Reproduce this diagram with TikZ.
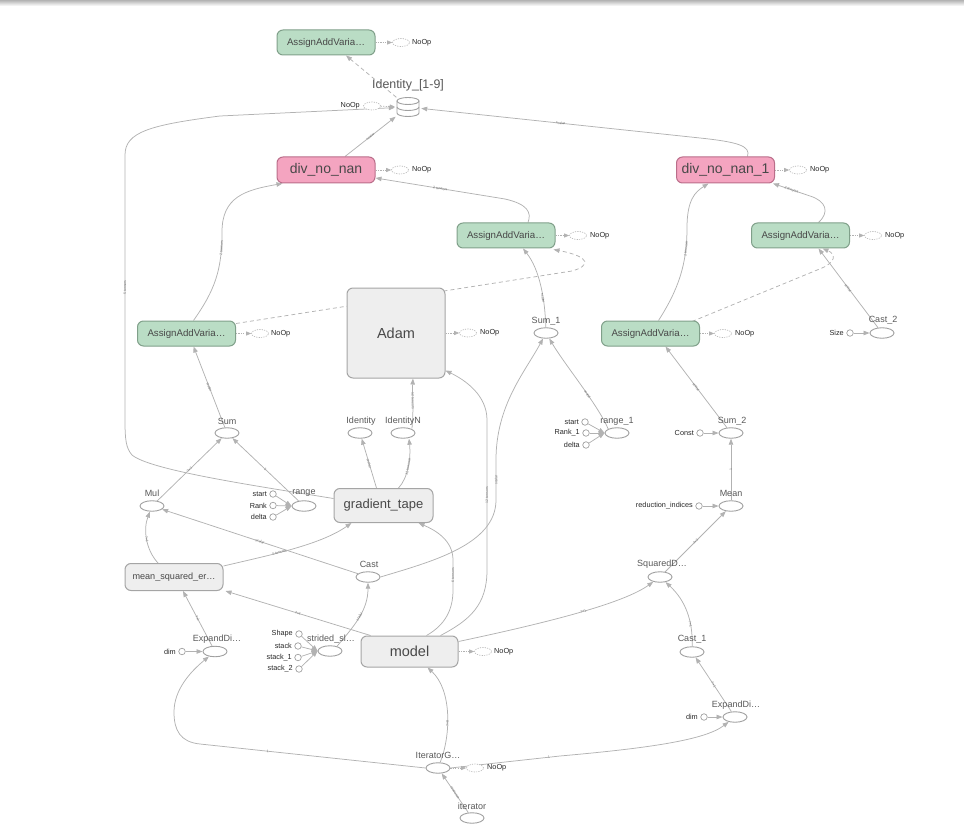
\documentclass[tikz,border=0pt]{standalone}
\usepackage{fontspec}
\setmainfont{Liberation Sans}
\usetikzlibrary{shapes.geometric,arrows.meta,calc}
\pgfdeclarelayer{bg}
\pgfsetlayers{bg,main}
\definecolor{eg}{RGB}{178,178,178}
\definecolor{og}{RGB}{160,160,160}
\definecolor{gfill}{RGB}{186,221,197}
\definecolor{gdraw}{RGB}{128,160,138}
\definecolor{pfill}{RGB}{244,164,192}
\definecolor{pdraw}{RGB}{186,110,138}
\definecolor{hfill}{RGB}{238,238,238}
\definecolor{hdraw}{RGB}{165,165,165}
\definecolor{boxtxt}{RGB}{72,72,72}
\definecolor{lab}{RGB}{88,88,88}
\tikzset{
 edge/.style={draw=eg, line width=0.75pt, -{Triangle[length=6pt,width=4.5pt]}},
 cdep/.style={edge, dash pattern=on 4pt off 3pt},
 ndot/.style={draw=eg, line width=0.7pt, dash pattern=on 1.2pt off 1.2pt, -{Triangle[length=5pt,width=4pt]}},
 op/.style={ellipse, draw=og, line width=0.9pt, fill=white, minimum width=24pt, minimum height=10.5pt, inner sep=0pt},
 noop/.style={ellipse, draw=eg, line width=0.6pt, dash pattern=on 1.2pt off 1.2pt, fill=white, minimum width=17pt, minimum height=8pt, inner sep=0pt},
 cst/.style={circle, draw=og, line width=0.7pt, fill=white, minimum size=6.5pt, inner sep=0pt},
 oplbl/.style={text=lab, font=\fontsize{9}{9}\selectfont, inner sep=0pt},
 smalltxt/.style={text=black!85, font=\fontsize{7.3}{7.3}\selectfont, inner sep=0pt, anchor=east},
 nooptxt/.style={text=black!85, font=\fontsize{7.3}{7.3}\selectfont, inner sep=0pt, anchor=west},
 el/.style={text=black!55, font=\fontsize{3.5}{3.5}\selectfont, sloped, inner sep=0.3pt},
 gbox/.style={rectangle, rounded corners=6pt, draw=gdraw, fill=gfill, line width=1pt, minimum width=98pt, minimum height=25pt, inner sep=0pt, text=boxtxt, font=\fontsize{9.7}{9.7}\selectfont},
 pbox/.style={gbox, draw=pdraw, fill=pfill, minimum height=26pt, font=\fontsize{14}{14}\selectfont},
 hbox/.style={gbox, draw=hdraw, fill=hfill},
}
\begin{document}
\begin{tikzpicture}[x=1pt,y=-1pt]
\useasboundingbox (0,0) rectangle (964,829);
\shade[top color=black!30, bottom color=white] (0,0) rectangle (964,6);

% ---------- boxes ----------
\node[gbox] (aa0) at (326,42.5) {AssignAddVaria…};
\node[pbox] (dn) at (326,170) {div\_no\_nan};
\node[pbox] (dn1) at (725.5,170) {div\_no\_nan\_1};
\node[gbox] (aaM) at (506,235.5) {AssignAddVaria…};
\node[gbox] (aaR) at (800.5,235.5) {AssignAddVaria…};
\node[gbox] (aaL) at (186.5,333.5) {AssignAddVaria…};
\node[gbox] (aaRL) at (650.5,333.5) {AssignAddVaria…};
\node[hbox, minimum height=90pt, font=\fontsize{14.5}{14.5}\selectfont] (adam) at (396,333) {Adam};
\node[hbox, minimum width=99pt, minimum height=34pt, font=\fontsize{13}{13}\selectfont] (gt) at (383.5,505.5) {gradient\_tape};
\node[hbox, minimum height=27pt, font=\fontsize{9.1}{9.1}\selectfont] (msq) at (174,577) {mean\_squared\_er…};
\node[hbox, minimum width=97pt, minimum height=31pt, font=\fontsize{14.5}{14.5}\selectfont] (model) at (409.5,651.5) {model};

% ---------- identity stack ----------
\node[inner sep=0pt, minimum width=26pt, minimum height=19pt] (idn) at (408,107) {};
\node[oplbl, font=\fontsize{12.4}{12.4}\selectfont] (idnl) at (408,85.5) {Identity\_[1-9]};
\fill[white] (397,101) -- (397,113) arc[start angle=180, end angle=0, x radius=11, y radius=3.5] -- (419,101) -- cycle;
\draw[og, line width=0.9pt] (408,101) ellipse [x radius=11, y radius=3.5];
\draw[og, line width=0.9pt] (397,101) -- (397,113) arc[start angle=180, end angle=0, x radius=11, y radius=3.5] -- (419,101);
\draw[og, line width=0.9pt] (397,107) arc[start angle=180, end angle=0, x radius=11, y radius=3.5];

% ---------- ops ----------
\node[op] (s1) at (546,333) {};      \node[oplbl] (s1l) at (546,321) {Sum\_1};
\node[op] (c2) at (882,333) {};      \node[oplbl] (c2l) at (883,320.5) {Cast\_2};
\node[op] (sum) at (227,433) {};     \node[oplbl] (suml) at (227,421) {Sum};
\node[op] (ident) at (360,433) {};   \node[oplbl] (identl) at (361,421) {Identity};
\node[op] (idN) at (403,433) {};     \node[oplbl] (idNl) at (403,421) {IdentityN};
\node[op] (r1) at (617,433) {};      \node[oplbl] (r1l) at (617,421) {range\_1};
\node[op] (s2) at (731,433) {};      \node[oplbl] (s2l) at (732,421) {Sum\_2};
\node[op] (mul) at (152,506) {};     \node[oplbl] (mull) at (152,493.5) {Mul};
\node[op] (rng) at (304,506) {};     \node[oplbl] (rngl) at (304,493.5) {range};
\node[op] (mean) at (731,506) {};    \node[oplbl] (meanl) at (731,493) {Mean};
\node[op] (cast) at (368,577) {};    \node[oplbl] (castl) at (369,564) {Cast};
\node[op] (sqd) at (660,577) {};     \node[oplbl] (sqdl) at (662,564) {SquaredD…};
\node[op] (edl) at (215,651.5) {};   \node[oplbl] (edll) at (217,639) {ExpandDi…};
\node[op] (ss) at (330,651) {};      \node[oplbl] (ssl) at (331,639) {strided\_sl…};
\node[op] (c1) at (692,652) {};      \node[oplbl] (c1l) at (692,639) {Cast\_1};
\node[op] (edr) at (735,717) {};     \node[oplbl] (edrl) at (736,705) {ExpandDi…};
\node[op] (itg) at (438,768) {};     \node[oplbl] (itgl) at (438,755) {IteratorG…};
\node[op] (itr) at (472,818) {};     \node[oplbl] (itrl) at (472,806) {iterator};

% ---------- constants ----------
\node[cst] (kSize) at (850,333) {};  \node[smalltxt] (kSizet) at (844,333) {Size};
\node[cst] (kS1) at (585,422) {};    \node[smalltxt] (kS1t) at (579,422) {start};
\node[cst] (kR1) at (586,433) {};    \node[smalltxt] (kR1t) at (580,433) {Rank\_1};
\node[cst] (kD1) at (586,445) {};    \node[smalltxt] (kD1t) at (580,445) {delta};
\node[cst] (kC) at (700,433) {};     \node[smalltxt] (kCt) at (694,433) {Const};
\node[cst] (kS0) at (273,494) {};    \node[smalltxt] (kS0t) at (267,494) {start};
\node[cst] (kR0) at (273,505.5) {};  \node[smalltxt] (kR0t) at (267,505.5) {Rank};
\node[cst] (kD0) at (273,517) {};    \node[smalltxt] (kD0t) at (267,517) {delta};
\node[cst] (kRI) at (699,506) {};    \node[smalltxt] (kRIt) at (693,506) {reduction\_indices};
\node[cst] (kDimL) at (182,651.5) {};\node[smalltxt] (kDimLt) at (176,651.5) {dim};
\node[cst] (kSh) at (299,634) {};    \node[smalltxt] (kSht) at (293,634) {Shape};
\node[cst] (kSt) at (298,646) {};    \node[smalltxt] (kStt) at (292,646) {stack};
\node[cst] (kSt1) at (298,657.5) {}; \node[smalltxt] (kSt1t) at (292,657.5) {stack\_1};
\node[cst] (kSt2) at (299,669) {};   \node[smalltxt] (kSt2t) at (293,669) {stack\_2};
\node[cst] (kDimR) at (704,717) {};  \node[smalltxt] (kDimRt) at (698,717) {dim};

% ---------- NoOps ----------
\node[noop] (n0) at (401,42.5) {};   \node[nooptxt] (n0t) at (412,42.5) {NoOp};
\node[noop] (nI) at (372,106) {};    \node[nooptxt, anchor=east] (nIt) at (360,106) {NoOp};
\node[noop] (n1) at (400,170) {};    \node[nooptxt] (n1t) at (412,170) {NoOp};
\node[noop] (n2) at (798,170) {};    \node[nooptxt] (n2t) at (810,170) {NoOp};
\node[noop] (n3) at (578,235.5) {};  \node[nooptxt] (n3t) at (590,235.5) {NoOp};
\node[noop] (n4) at (873,235.5) {};  \node[nooptxt] (n4t) at (885,235.5) {NoOp};
\node[noop] (n5) at (260,333.5) {};  \node[nooptxt] (n5t) at (271,333.5) {NoOp};
\node[noop] (n6) at (723,333.5) {};  \node[nooptxt] (n6t) at (735,333.5) {NoOp};
\node[noop] (n7) at (468,333) {};    \node[nooptxt] (n7t) at (480,333) {NoOp};
\node[noop] (n8) at (483,651.5) {};  \node[nooptxt] (n8t) at (494,651.5) {NoOp};
\node[noop] (n9) at (475,768) {};    \node[nooptxt] (n9t) at (487,768) {NoOp};

% ---------- edges ----------
\begin{pgfonlayer}{bg}
\draw[cdep] (idn) -- ($(aa0.south)+(20,0)$);
\draw[ndot] (nI) -- (idn);
\draw[edge] ($(dn.north)+(19,0)$) -- node[el]{scalar} (idn);
\draw[edge] ($(dn1.north)+(22,0)$) .. controls (751,146) and (738,142) .. (700,138) -- node[el]{scalar} (idn);
\draw[edge] ($(gt.west)+(0,-7)$) .. controls (250,485) and (150,470) .. (132,455) .. controls (126,448) and (125,440) .. (125,420) -- node[el]{5 tensors} (125,155) .. controls (125,132) and (150,125) .. (220,116) -- (idn);

\draw[edge] ($(aaL.north)+(7,0)$) .. controls (215,290) and (222,270) .. node[el,pos=0.85]{2 tensors} (222,232) .. controls (222,197) and (245,190) .. ($(dn.south west)+(6,0)$);
\draw[edge] ($(aaM.north)+(22,0)$) .. controls (532,212) and (527,204) .. (505,199) -- node[el]{2 tensors} ($(dn.east)+(0,8)$);
\draw[edge] ($(aaRL.north)+(8,0)$) .. controls (678,290) and (687,265) .. node[el,pos=0.8]{2 tensors} (687,228) .. controls (687,200) and (695,192) .. ($(dn1.south)+(-17,0)$);
\draw[edge] ($(aaR.north)+(18,0)$) .. controls (830,212) and (826,201) .. (810,196) -- node[el]{2 tensors} ($(dn1.south east)+(-2,0)$);

\draw[cdep] ($(aaL.north east)+(0,3)$) -- (572,271) .. controls (590,266) and (592,257) .. ($(aaM.south east)+(-2,1)$);
\draw[cdep] ($(aaRL.north east)+(-8,1)$) -- (822,268) .. controls (836,262) and (836,254) .. ($(aaR.south)+(22,0)$);

\draw[edge] (c2) -- node[el]{scalar} ($(aaR.south)+(18,0)$);
\draw[edge] (kSize) -- (c2);
\draw[edge] (sum) -- node[el]{scalar} ($(aaL.south)+(7,0)$);
\draw[edge] (s1) .. controls (545,300) and (540,270) .. node[el,pos=0.35]{scalar} ($(aaM.south)+(17,0)$);
\draw[edge] (s2) -- node[el]{scalar} ($(aaRL.south)+(15,0)$);
\draw[edge] (r1.north west) .. controls (598,405) and (565,365) .. node[el,pos=0.4]{scalar} (s1);
\draw[edge] (kS1) -- (r1.west);
\draw[edge] (kR1) -- (r1.west);
\draw[edge] (kD1) -- (r1.west);
\draw[edge] (cast.east) .. controls (430,562) and (496,545) .. (496,500) -- node[el]{scalar} (496,460) .. controls (496,405) and (525,372) .. (s1);
\draw[edge] ($(model.north)+(31,0)$) .. controls (470,620) and (487,605) .. (487,570) -- node[el]{12 tensors} (487,420) .. controls (487,395) and (465,380) .. ($(adam.south east)+(0,-8)$);
\draw[edge] ($(model.north)+(17,0)$) .. controls (445,625) and (453,610) .. (453,590) -- node[el]{6 tensors} (453,560) .. controls (453,540) and (435,530) .. ($(gt.south)+(35,0)$);
\draw[edge] ($(gt.north)+(15,0)$) .. controls (408,478) and (411,458) .. node[el]{12 tensors} ($(idN.south)+(6,0)$);
\draw[edge] ($(gt.north)+(-7,0)$) -- node[el]{scalar} (ident);
\draw[edge] ($(idN.north)+(9,1)$) .. controls (414,405) and (412,395) .. node[el]{12 tensors} ($(adam.south)+(17,0)$);

\draw[edge] ($(msq.north east)+(0,3)$) .. controls (270,555) and (320,545) .. node[el,pos=0.4]{5 tensors} ($(gt.south west)+(18,0)$);
\draw[edge] (cast) -- node[el]{scalar} (mul);
\draw[edge] ($(msq.north)+(-16,0)$) .. controls (146,550) and (143,530) .. node[el]{?×1} (mul);
\draw[edge] (mul) -- node[el]{?×1} (sum);
\draw[edge] (rng) -- node[el]{1} (sum);
\draw[edge] (kS0) -- (rng.west);
\draw[edge] (kR0) -- (rng.west);
\draw[edge] (kD0) -- (rng.west);

\draw[edge] ($(model.north west)+(10,0)$) -- node[el]{?×1} ($(msq.south east)+(2,0)$);
\draw[edge] (edl) -- node[el]{?×1} ($(msq.south)+(9,0)$);
\draw[edge] (kDimL) -- (edl);
\draw[edge] (kSh) -- (ss.west);
\draw[edge] (kSt) -- (ss.west);
\draw[edge] (kSt1) -- (ss.west);
\draw[edge] (kSt2) -- (ss.west);
\draw[edge] ($(ss.north)+(7,1)$) .. controls (355,625) and (368,610) .. node[el]{scalar} (cast);

\draw[edge] ($(model.east)+(0,-10)$) .. controls (560,620) and (625,602) .. node[el]{?×1} (sqd);
\draw[edge] (sqd) -- node[el]{?×1} (mean);
\draw[edge] (kRI) -- (mean);
\draw[edge] (mean) -- node[el]{1} (s2);
\draw[edge] (kC) -- (s2);
\draw[edge] (c1) .. controls (693,620) and (685,600) .. node[el,pos=0.3]{?×1} (sqd);
\draw[edge] (edr) -- node[el]{?×1} (c1);
\draw[edge] (kDimR) -- (edr);

\draw[edge] (itg) .. controls (451,735) and (452,690) .. node[el,pos=0.4]{?×8} ($(model.south)+(18,0)$);
\draw[edge] (itg.west) -- node[el,pos=0.7]{1} (200,744) .. controls (180,742) and (174,730) .. (174,712) .. controls (174,690) and (190,672) .. (edl);
\draw[edge] (itg.east) -- node[el,pos=0.9]{1} (560,756) .. controls (650,748) and (705,740) .. (edr);
\draw[edge] (itr) -- node[el]{resource} (itg);

\draw[ndot] (aa0.east) -- (n0);
\draw[ndot] (dn.east) -- (n1);
\draw[ndot] (dn1.east) -- (n2);
\draw[ndot] (aaM.east) -- (n3);
\draw[ndot] (aaR.east) -- (n4);
\draw[ndot] (aaL.east) -- (n5);
\draw[ndot] (aaRL.east) -- (n6);
\draw[ndot] (adam.east) -- (n7);
\draw[ndot] (model.east) -- (n8);
\draw[ndot] (itg.east) -- (n9);
\end{pgfonlayer}
\end{tikzpicture}
\end{document}
